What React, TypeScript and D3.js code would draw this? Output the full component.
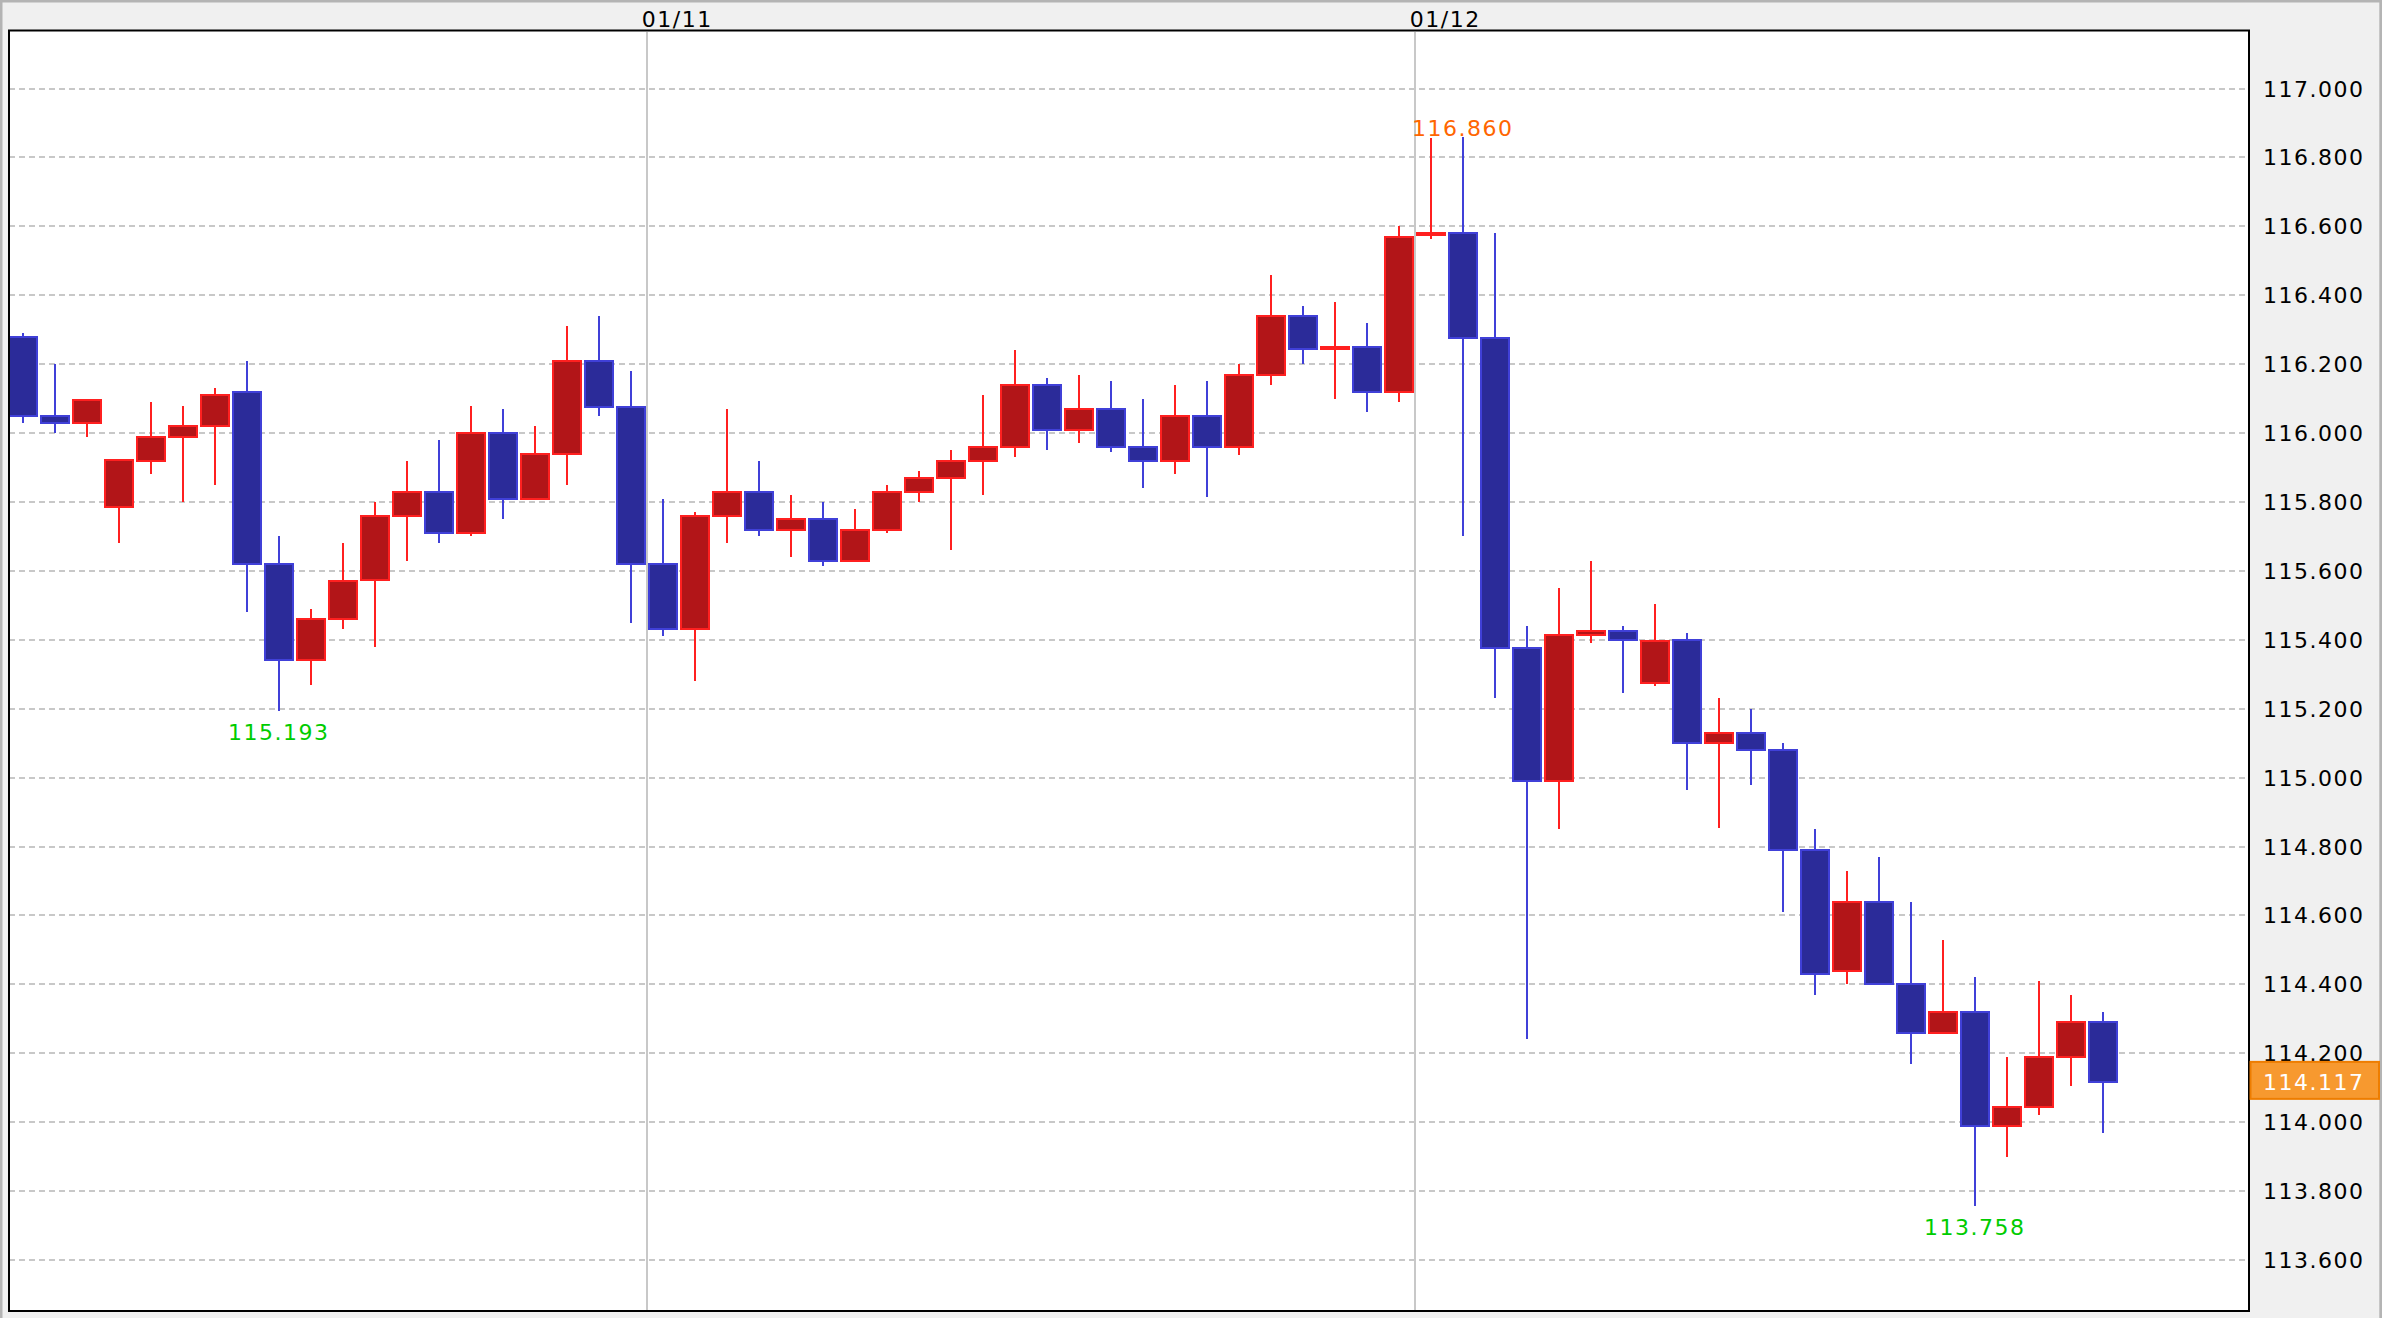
import * as d3 from 'd3'

// hourly candles, 01/10 04:00 .. 01/12 21:00
const opens = [
  116.28, 116.05, 116.03, 115.786, 115.92, 115.99, 116.02, 116.12, 115.62, 115.34,
  115.46, 115.575, 115.76, 115.83, 115.71, 116.0, 115.81, 115.94, 116.21, 116.075,
  115.62, 115.43, 115.76, 115.83, 115.72, 115.75, 115.63, 115.72, 115.83, 115.87,
  115.92, 115.96, 116.14, 116.01, 116.07, 115.96, 115.92, 116.05, 115.96, 116.17,
  116.34, 116.245, 116.25, 116.12, 116.575, 116.58, 116.275, 115.375, 114.99, 115.415,
  115.425, 115.275, 115.4, 115.1, 115.13, 115.08, 114.79, 114.44, 114.64, 114.4,
  114.26, 114.32, 113.99, 114.045, 114.19, 114.29,
]
const highs = [
  116.29, 116.2, 116.1, 115.921, 116.09, 116.08, 116.13, 116.21, 115.7, 115.49,
  115.68, 115.8, 115.92, 115.98, 116.08, 116.07, 116.02, 116.31, 116.34, 116.18,
  115.81, 115.77, 116.07, 115.92, 115.82, 115.8, 115.78, 115.85, 115.89, 115.95,
  116.11, 116.24, 116.16, 116.17, 116.15, 116.1, 116.14, 116.15, 116.2, 116.46,
  116.37, 116.38, 116.32, 116.6, 116.855, 116.86, 116.58, 115.44, 115.55, 115.63,
  115.44, 115.505, 115.42, 115.23, 115.2, 115.1, 114.85, 114.73, 114.77, 114.64,
  114.53, 114.42, 114.19, 114.41, 114.37, 114.32,
]
const lows = [
  116.03, 116.0, 115.99, 115.68, 115.88, 115.8, 115.85, 115.48, 115.193, 115.27,
  115.43, 115.38, 115.63, 115.68, 115.7, 115.75, 115.805, 115.85, 116.05, 115.45,
  115.41, 115.28, 115.68, 115.7, 115.64, 115.615, 115.63, 115.71, 115.8, 115.66,
  115.82, 115.93, 115.95, 115.97, 115.945, 115.84, 115.88, 115.815, 115.935, 116.14,
  116.2, 116.1, 116.06, 116.09, 116.563, 115.7, 115.23, 114.24, 114.85, 115.39,
  115.245, 115.265, 114.965, 114.855, 114.98, 114.61, 114.37, 114.4, 114.4, 114.17,
  114.26, 113.758, 113.9, 114.02, 114.105, 113.97,
]
const closes = [
  116.05, 116.03, 116.095, 115.921, 115.99, 116.02, 116.11, 115.62, 115.34, 115.46,
  115.57, 115.76, 115.83, 115.71, 116.0, 115.81, 115.94, 116.21, 116.075, 115.62,
  115.43, 115.76, 115.83, 115.72, 115.75, 115.63, 115.72, 115.83, 115.87, 115.92,
  115.96, 116.14, 116.01, 116.07, 115.96, 115.92, 116.05, 115.96, 116.17, 116.34,
  116.245, 116.25, 116.12, 116.57, 116.58, 116.275, 115.375, 114.99, 115.415, 115.425,
  115.4, 115.397, 115.1, 115.13, 115.08, 114.79, 114.43, 114.64, 114.4, 114.26,
  114.32, 113.99, 114.045, 114.19, 114.29, 114.117,
]

const dayLabels = ['01/11', '01/12']
const dayStartIdx = [20, 44]

// annotated extremes (candle indexes)
const highMarks = [45]
const lowMarks = [8, 61]

const yTicks = [
  113.6, 113.8, 114.0, 114.2, 114.4, 114.6, 114.8, 115.0, 115.2,
  115.4, 115.6, 115.8, 116.0, 116.2, 116.4, 116.6, 116.8, 117.0,
]
const lastPrice = 114.117

const W = 2382
const H = 1318
const PLOT = { left: 9, right: 2249, top: 31, bottom: 1311 }
const HALF = 14
const FONT = "'DejaVu Sans', Verdana, sans-serif"

const UP = { fill: '#b21518', stroke: '#ff2020' }
const DOWN = { fill: '#2b2b99', stroke: '#4040d8' }

export default function App() {
  const x = d3.scaleLinear().domain([-0.43, 69.57]).range([PLOT.left, PLOT.right])
  const y = d3.scaleLinear().domain([113.452, 117.167]).range([PLOT.bottom, PLOT.top])

  const candles = opens.map((o, i) => ({ i, o, h: highs[i], l: lows[i], c: closes[i] }))

  return (
    <>
      <style>{'body{margin:0}'}</style>
      <svg width={W} height={H} style={{ display: 'block' }} fontFamily={FONT}>
        <defs>
          <clipPath id="plot-clip">
            <rect x={PLOT.left + 1} y={PLOT.top + 1} width={PLOT.right - PLOT.left - 2} height={PLOT.bottom - PLOT.top - 2} />
          </clipPath>
        </defs>

        {/* frame */}
        <rect x={0} y={0} width={W} height={H} fill="#f0f0f0" />
        <rect x={0} y={0} width={W} height={2.5} fill="#b4b4b4" />
        <rect x={0} y={0} width={2.5} height={H} fill="#b4b4b4" />
        <rect x={W - 2.7} y={0} width={2.7} height={H} fill="#b4b4b4" />
        <rect x={PLOT.left} y={PLOT.top} width={PLOT.right - PLOT.left} height={PLOT.bottom - PLOT.top} fill="#fff" />

        <g clipPath="url(#plot-clip)">
          {/* grid */}
          {yTicks.map(t => (
            <line key={t} x1={PLOT.left} x2={PLOT.right} y1={Math.round(y(t))} y2={Math.round(y(t))}
              stroke="#c8c8c8" strokeWidth={2} strokeDasharray="6,4" shapeRendering="crispEdges" />
          ))}
          {/* day separators */}
          {dayStartIdx.map(d => (
            <line key={d} x1={x(d - 0.5)} x2={x(d - 0.5)} y1={PLOT.top} y2={PLOT.bottom}
              stroke="#c8c8c8" strokeWidth={2} shapeRendering="crispEdges" />
          ))}

          {/* candles */}
          {candles.map(d => {
            const col = d.c >= d.o ? UP : DOWN
            const cx = Math.round(x(d.i))
            const top = y(Math.max(d.o, d.c))
            const bot = y(Math.min(d.o, d.c))
            return (
              <g key={d.i} shapeRendering="crispEdges">
                <line x1={cx} x2={cx} y1={y(d.h)} y2={y(d.l)} stroke={col.stroke} strokeWidth={2} />
                <rect x={cx - HALF} y={top} width={HALF * 2} height={Math.max(0, bot - top)}
                  fill={col.fill} stroke={col.stroke} strokeWidth={2} />
              </g>
            )
          })}
        </g>

        {/* plot border */}
        <rect x={PLOT.left} y={PLOT.top - 0.5} width={PLOT.right - PLOT.left} height={PLOT.bottom - PLOT.top + 0.5}
          fill="none" stroke="#000" strokeWidth={2} />

        {/* date labels */}
        {dayStartIdx.map((d, k) => (
          <text key={d} x={x(d - 0.5) - 5} y={27} fontSize={22} letterSpacing={1.5} fill="#000">
            {dayLabels[k]}
          </text>
        ))}

        {/* y axis labels */}
        {yTicks.map(t => (
          <text key={t} x={2263} y={y(t) + 8} fontSize={22} letterSpacing={1.5} fill="#000">
            {t.toFixed(3)}
          </text>
        ))}

        {/* current price marker */}
        <rect x={PLOT.right + 1.5} y={y(lastPrice) - 20} width={W - PLOT.right - 4.5} height={37}
          fill="#f7992f" stroke="#ee7d00" strokeWidth={2} />
        <text x={2263} y={y(lastPrice) + 8} fontSize={22} letterSpacing={1.5} fill="#fff">
          {lastPrice.toFixed(3)}
        </text>

        {/* high / low annotations */}
        {highMarks.map(i => (
          <text key={`h${i}`} x={x(i)} y={y(highs[i]) - 1} fontSize={22} letterSpacing={1.5} textAnchor="middle" fill="#ff6600">
            {highs[i].toFixed(3)}
          </text>
        ))}
        {lowMarks.map(i => (
          <text key={`l${i}`} x={x(i)} y={y(lows[i]) + 29} fontSize={22} letterSpacing={1.5} textAnchor="middle" fill="#00cc00">
            {lows[i].toFixed(3)}
          </text>
        ))}
      </svg>
    </>
  )
}
